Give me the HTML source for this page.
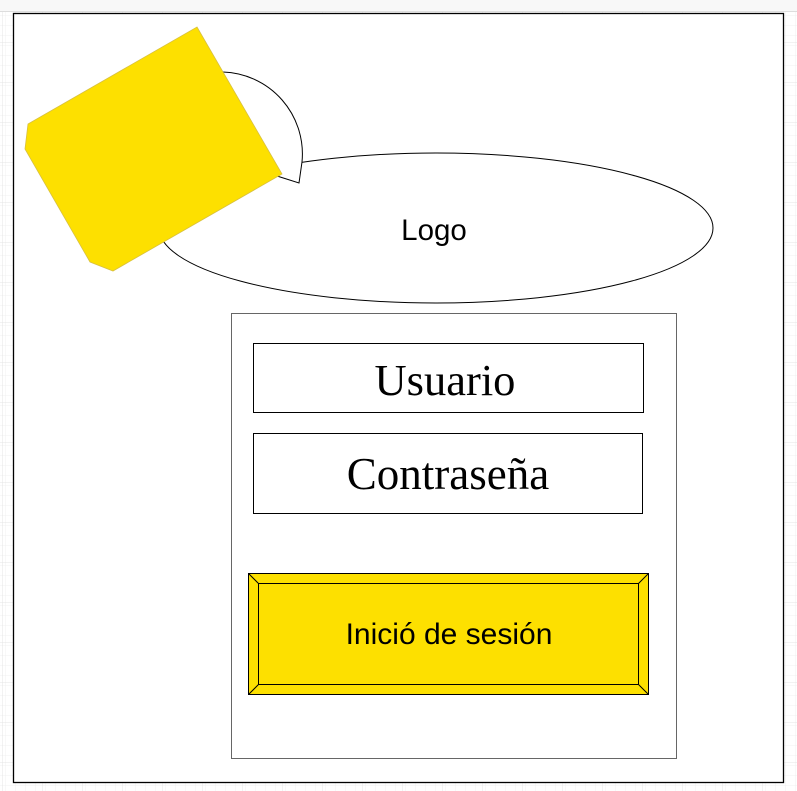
<!DOCTYPE html>
<html><head><meta charset="utf-8"><style>
html,body{margin:0;padding:0;width:797px;height:791px;overflow:hidden;background:#fff}
</style></head><body>
<svg width="797" height="791" xmlns="http://www.w3.org/2000/svg">
<defs>
<pattern id="g" width="10" height="10" patternUnits="userSpaceOnUse" x="3" y="3">
<path d="M10 0V10M0 10H10" stroke="#f0f0f0" stroke-width="1" fill="none"/>
</pattern>
<pattern id="G" width="40" height="40" patternUnits="userSpaceOnUse" x="3" y="3">
<rect width="40" height="40" fill="url(#g)"/>
<path d="M40 0V40M0 40H40" stroke="#e4e4e4" stroke-width="1" fill="none"/>
</pattern>
</defs>
<rect width="797" height="791" fill="url(#G)"/>
<rect x="0" y="0" width="797" height="11" fill="#f8f8f8"/>
<line x1="0" y1="11.5" x2="797" y2="11.5" stroke="#ddd"/>
<rect x="13.5" y="13.5" width="770" height="769" fill="#fff" stroke="#000" stroke-width="1.3"/>
<ellipse cx="436" cy="228" rx="277" ry="75" fill="#fff" stroke="#000" stroke-width="1"/>
<path d="M223 72 A82 82 0 0 1 302 162 L299 183 L277 176" fill="#fff" stroke="#000" stroke-width="1"/>
<polygon points="197,27 282,174 113,271 90,262 25,149 28,124" fill="#fde000" stroke="#d8c040" stroke-width="0.8"/>
<text x="434" y="240" font-family="Liberation Sans, sans-serif" font-size="29.5" text-anchor="middle">Logo</text>
<rect x="231.5" y="313.5" width="445" height="445" fill="#fff" stroke="#666" stroke-width="1"/>
<rect x="253.5" y="343.5" width="390" height="69" fill="#fff" stroke="#000" stroke-width="1"/>
<text x="445" y="395" font-family="Liberation Serif, serif" font-size="44.5" text-anchor="middle">Usuario</text>
<rect x="253.5" y="433.5" width="389" height="80" fill="#fff" stroke="#000" stroke-width="1"/>
<text x="448" y="489" font-family="Liberation Serif, serif" font-size="45" text-anchor="middle">Contraseña</text>
<rect x="248.5" y="573.5" width="400" height="121" fill="#fde000" stroke="#000" stroke-width="1"/>
<rect x="258.5" y="583.5" width="380" height="101" fill="#fde000" stroke="#000" stroke-width="1"/>
<path d="M248.5 573.5L258.5 583.5M648.5 573.5L638.5 583.5M248.5 694.5L258.5 684.5M648.5 694.5L638.5 684.5" stroke="#000" stroke-width="1"/>
<text x="449" y="644" font-family="Liberation Sans, sans-serif" font-size="30" text-anchor="middle">Inició de sesión</text>
</svg>
</body></html>
